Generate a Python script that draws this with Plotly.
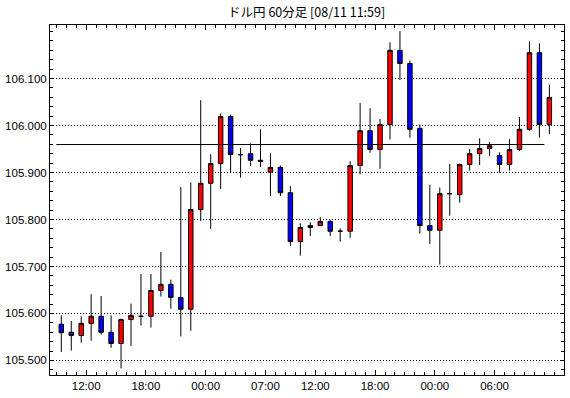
import plotly.graph_objects as go

# --- data (USD/JPY 60-minute candles) ---
opens = [105.577, 105.560, 105.553, 105.579, 105.594, 105.560, 105.536, 105.587, 105.594, 105.594,
         105.649, 105.662, 105.634, 105.609, 105.821, 105.877, 105.919, 106.019, 105.938, 105.940,
         105.926, 105.901, 105.911, 105.857, 105.753, 105.783, 105.787, 105.796, 105.775, 105.775,
         105.915, 105.989, 105.949, 106.002, 106.160, 106.132, 105.994, 105.787, 105.777, 105.855,
         105.853, 105.917, 105.940, 105.951, 105.936, 105.917, 105.949, 105.992, 106.155, 106.002]
highs = [105.596, 105.584, 105.594, 105.641, 105.637, 105.596, 105.589, 105.621, 105.684, 105.684,
         105.731, 105.672, 105.869, 105.879, 106.054, 105.939, 106.026, 106.023, 105.952, 105.962,
         105.992, 105.941, 105.915, 105.871, 105.792, 105.794, 105.805, 105.799, 105.781, 105.924,
         106.048, 106.037, 106.014, 106.177, 106.201, 106.138, 106.002, 105.874, 105.868, 105.918,
         105.919, 105.950, 105.973, 105.965, 105.943, 105.971, 106.018, 106.179, 106.175, 106.087]
lows = [105.518, 105.521, 105.538, 105.542, 105.555, 105.527, 105.483, 105.531, 105.574, 105.570,
        105.636, 105.610, 105.551, 105.563, 105.797, 105.780, 105.865, 105.900, 105.889, 105.914,
        105.912, 105.850, 105.850, 105.744, 105.723, 105.765, 105.787, 105.765, 105.753, 105.761,
        105.896, 105.942, 105.908, 105.970, 106.097, 105.974, 105.770, 105.748, 105.704, 105.808,
        105.836, 105.904, 105.916, 105.935, 105.900, 105.904, 105.946, 105.989, 105.974, 105.982]
closes = [105.559, 105.553, 105.579, 105.594, 105.560, 105.536, 105.587, 105.596, 105.594, 105.649,
          105.662, 105.634, 105.609, 105.821, 105.877, 105.919, 106.019, 105.938, 105.938, 105.926,
          105.924, 105.911, 105.857, 105.753, 105.783, 105.787, 105.796, 105.775, 105.775, 105.915,
          105.989, 105.949, 106.002, 106.160, 106.132, 105.992, 105.787, 105.777, 105.855, 105.855,
          105.917, 105.940, 105.951, 105.957, 105.917, 105.949, 105.992, 106.155, 106.002, 106.060]

# hour labels: the label sits at the boundary before the candle with this index
label_candle_index = [3, 9, 15, 21, 26, 32, 38, 44]
tick_labels = ["12:00", "18:00", "00:00", "07:00", "12:00", "18:00", "00:00", "06:00"]

y_ticks = [105.5, 105.6, 105.7, 105.8, 105.9, 106.0, 106.1]
ref_level = 105.9596

title_text = "ドル円 60分足 [08/11 11:59]"

x_idx = list(range(len(opens)))
FONT = "Liberation Sans Narrow, Liberation Sans, Arial, sans-serif"
FSIZE = 11.5

fig = go.Figure()
fig.add_trace(go.Candlestick(
    x=x_idx, open=opens, high=highs, low=lows, close=closes,
    increasing=dict(line=dict(color="black", width=1), fillcolor="#FF0000"),
    decreasing=dict(line=dict(color="black", width=1), fillcolor="#0000FF"),
    whiskerwidth=0, showlegend=False, hoverinfo="skip",
))

fig.add_shape(type="line", xref="x", yref="y",
              x0=-0.5, x1=len(opens) - 1.5, y0=ref_level, y1=ref_level,
              line=dict(color="black", width=1))

fig.update_layout(
    width=570, height=398,
    margin=dict(l=49, r=5, t=25, b=23),
    paper_bgcolor="white", plot_bgcolor="white",
    boxgap=0.36,
    title=dict(text=title_text, x=0.538, xanchor="center", y=1 - 13 / 398, yanchor="middle",
               yref="container",
               font=dict(family="Noto Sans CJK JP", size=12.5, color="black")),
    font=dict(family=FONT, size=FSIZE, color="black"),
)

fig.update_xaxes(
    range=[-1.133, len(opens) + 0.47],
    rangeslider=dict(visible=False),
    tickmode="array",
    tickvals=[i - 0.5 for i in label_candle_index],
    ticktext=tick_labels,
    ticks="inside", ticklen=5, tickwidth=1, tickcolor="black",
    minor=dict(dtick=1, tick0=0.5, ticks="inside", ticklen=3, tickwidth=1,
               tickcolor="black", showgrid=False),
    showline=True, linecolor="black", linewidth=1, mirror="ticks",
    showgrid=False, zeroline=False,
    tickfont=dict(family=FONT, size=FSIZE, color="black"),
)

fig.update_yaxes(
    range=[105.469, 106.214],
    tickmode="array",
    tickvals=y_ticks,
    ticktext=[f"{v:.3f}" for v in y_ticks],
    ticks="inside", ticklen=3, tickwidth=1, tickcolor="black",
    minor=dict(dtick=0.02, tick0=105.5, ticks="inside", ticklen=3, tickwidth=1,
               tickcolor="black", showgrid=False),
    showline=True, linecolor="black", linewidth=1, mirror="ticks",
    showgrid=True, gridcolor="black", gridwidth=1, griddash="1px,2px",
    zeroline=False,
    ticklabelstandoff=0,
    tickfont=dict(family=FONT, size=FSIZE, color="black"),
)

fig.write_html("out.html")
